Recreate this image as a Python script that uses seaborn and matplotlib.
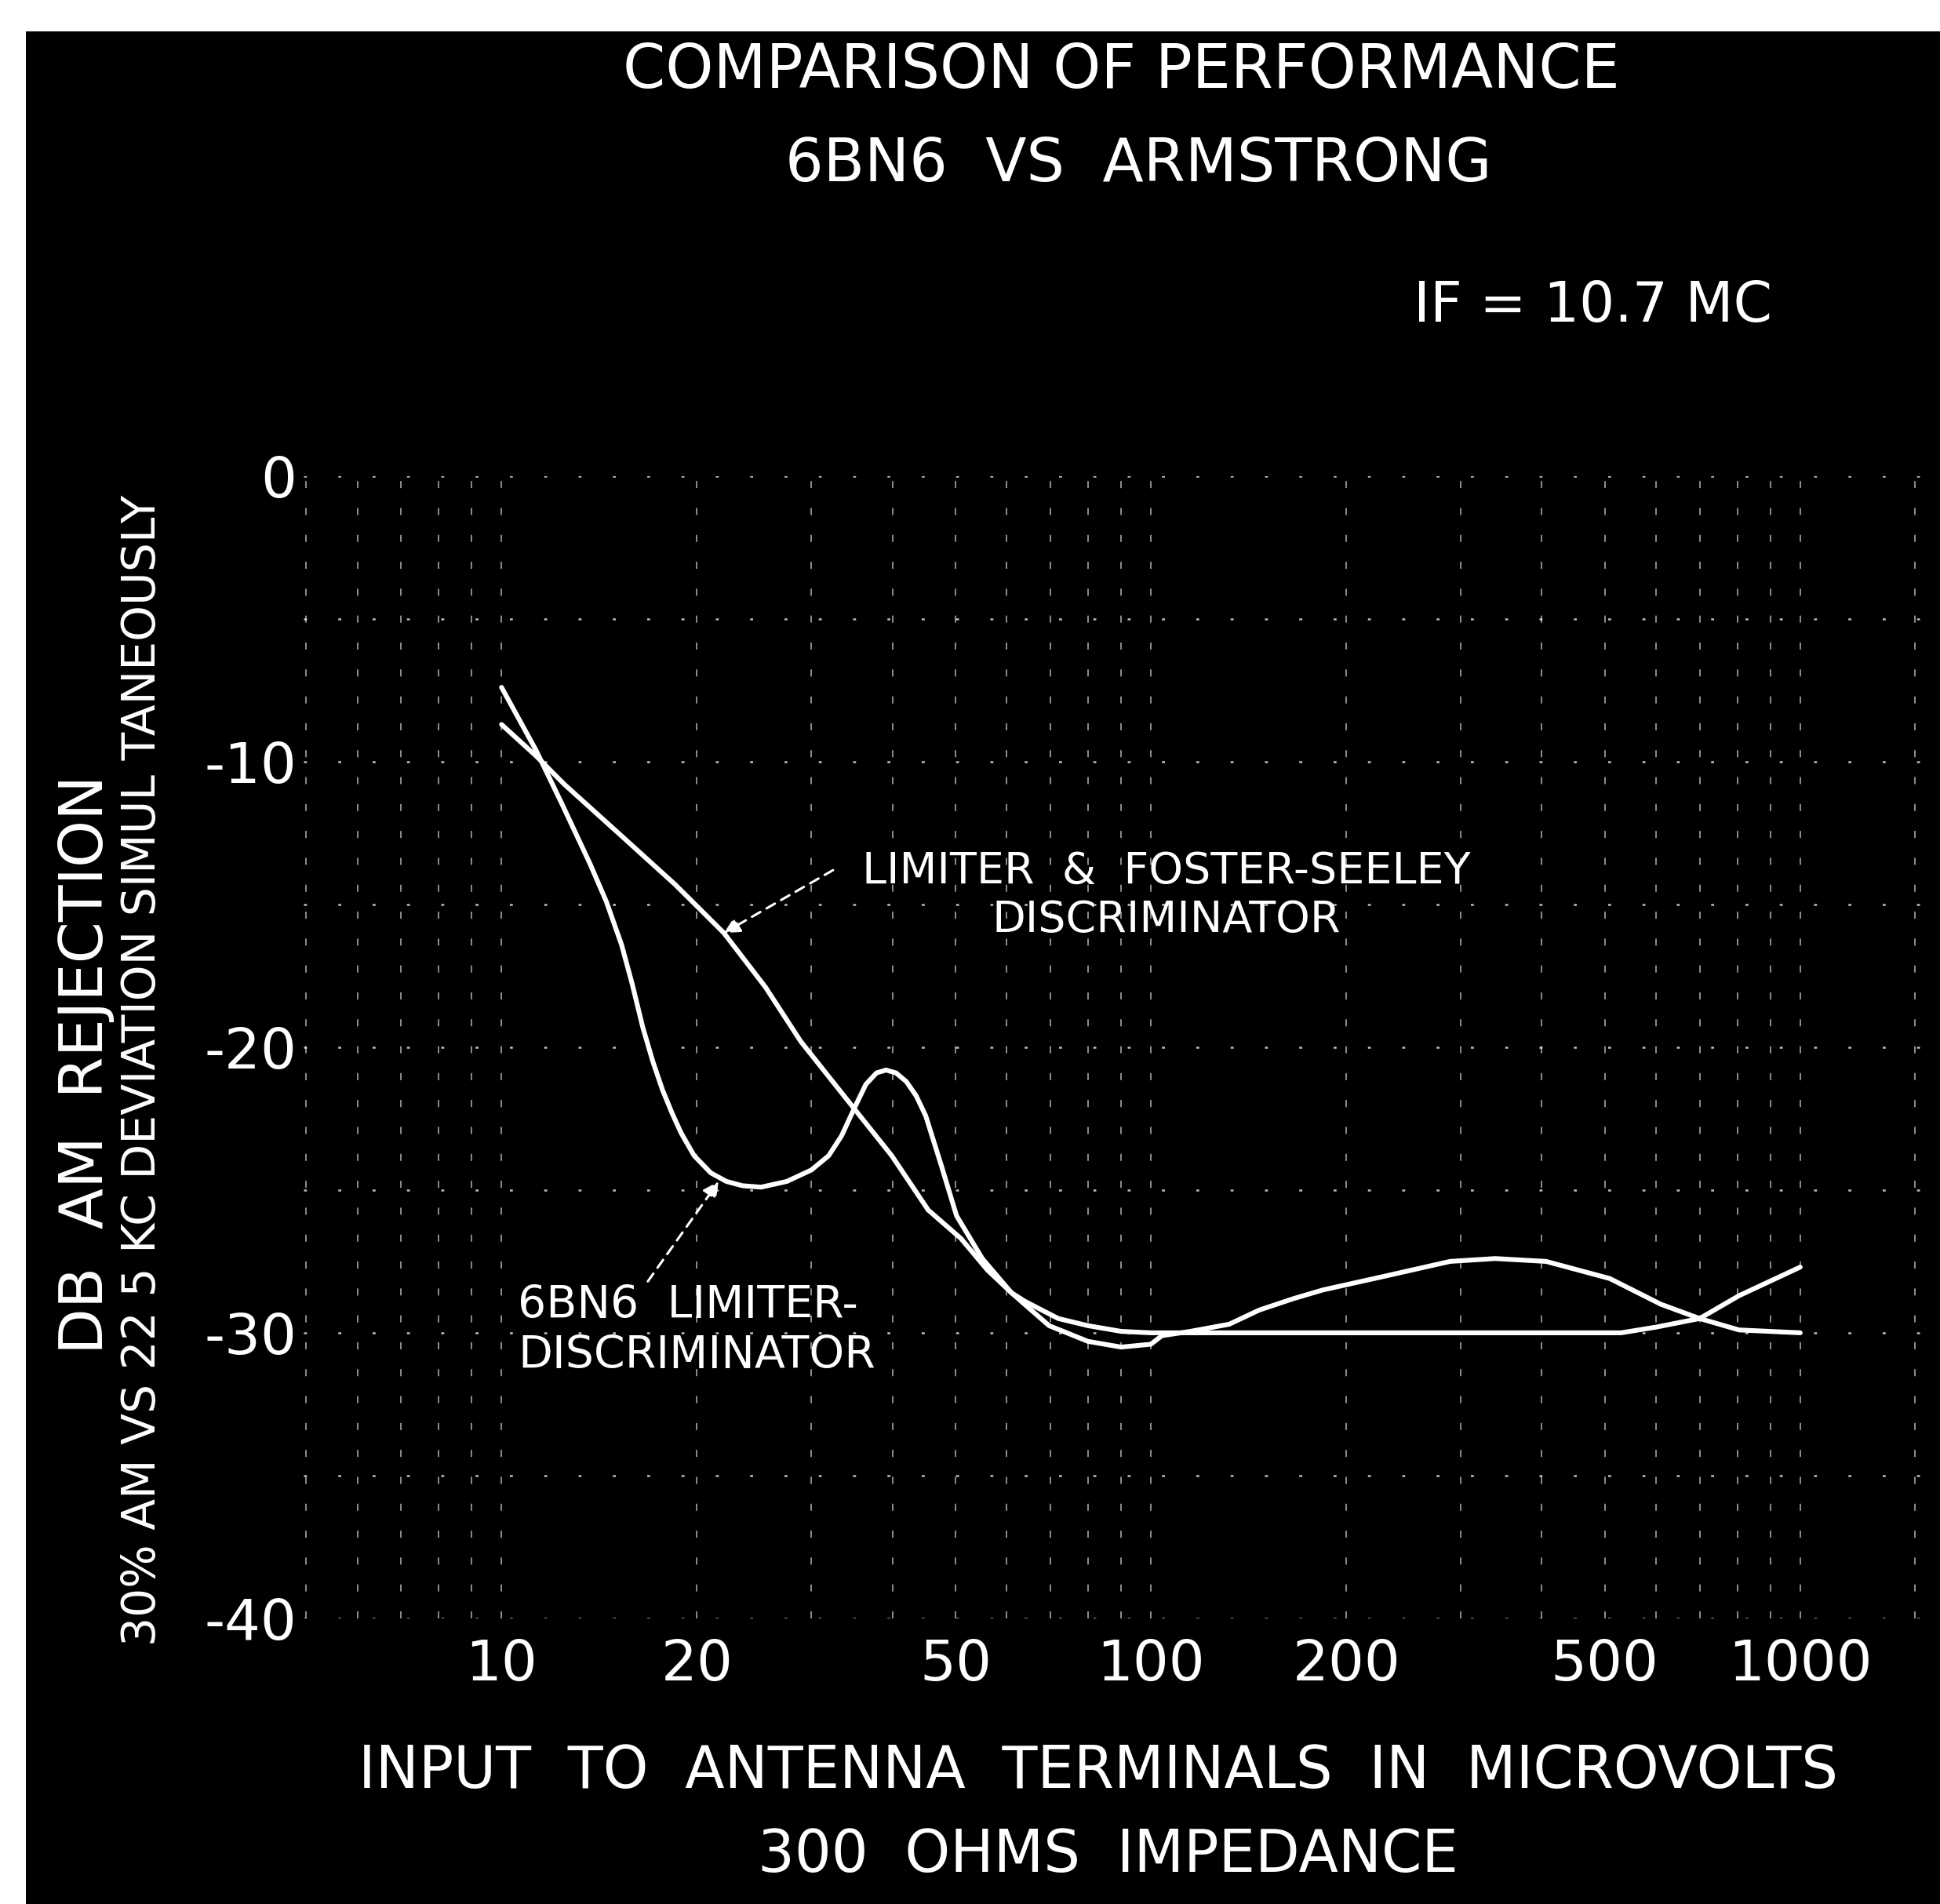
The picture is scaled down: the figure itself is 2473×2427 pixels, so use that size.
import numpy as np
import pandas as pd
import matplotlib
matplotlib.use("Agg")
import matplotlib.pyplot as plt
import seaborn as sns
from matplotlib.patches import Rectangle

# ---- data ----
fs_x = [10, 11.3, 12.5, 15.3, 18.5, 22, 25.5, 28.9, 34.5, 39.9, 45.4, 51, 56, 61, 64, 72, 80, 90,
        100, 150, 200, 300, 400, 530, 600, 700, 805, 1000]
fs_y = [-8.7, -9.8, -10.8, -12.6, -14.3, -16.0, -17.9, -19.8, -22.0, -23.8, -25.7, -26.7, -27.8, -28.6,
        -28.9, -29.5, -29.75, -29.95, -30.0, -30.0, -30.0, -30.0, -30.0, -30.0, -29.8, -29.5, -28.7, -27.7]

bn_x = [10, 11.3, 12.4, 13.7, 14.5, 15.3, 15.9, 16.5, 17.1, 17.7, 18.3, 18.9, 19.8, 21.0, 22.2, 23.5,
        25.1, 27.5, 30, 31.9, 33.4, 35.0, 36.4, 37.8, 39.1, 40.5, 42, 43.5, 45, 47.5, 50.2, 55, 61,
        69.7, 80, 90, 100, 104, 115, 132, 147, 166, 184, 231, 289, 339, 406, 509, 610, 700, 805, 1000]
bn_y = [-7.4, -9.6, -11.5, -13.6, -14.9, -16.4, -17.8, -19.3, -20.5, -21.5, -22.3, -23.0, -23.8, -24.4,
        -24.7, -24.85, -24.9, -24.7, -24.3, -23.8, -23.1, -22.1, -21.3, -20.9, -20.8, -20.9, -21.2,
        -21.7, -22.4, -24.1, -25.9, -27.4, -28.6, -29.75, -30.3, -30.5, -30.4, -30.1, -29.95, -29.7,
        -29.2, -28.8, -28.5, -28.0, -27.5, -27.4, -27.5, -28.1, -29.0, -29.5, -29.9, -30.0]

y_ticks = [0, -10, -20, -30, -40]
y_ticklabels = ["0", "-10", "-20", "-30", "-40"]
x_ticks = [10, 20, 50, 100, 200, 500, 1000]
x_ticklabels = ["10", "20", "50", "100", "200", "500", "1000"]

title1 = "COMPARISON OF PERFORMANCE"
title2 = "6BN6  VS  ARMSTRONG"
if_label = "IF = 10.7 MC"
xlabel1 = "INPUT  TO  ANTENNA  TERMINALS  IN  MICROVOLTS"
xlabel2 = "300  OHMS  IMPEDANCE"
ylabel1 = "DB  AM  REJECTION"
ylabel2 = "30% AM VS 22 5 KC DEVIATION SIMUL TANEOUSLY"
fs_label = "LIMITER  &  FOSTER-SEELEY\nDISCRIMINATOR"
bn_label = "6BN6  LIMITER-\nDISCRIMINATOR"

df = pd.concat([
    pd.DataFrame({"x": fs_x, "y": fs_y, "curve": "fs"}),
    pd.DataFrame({"x": bn_x, "y": bn_y, "curve": "bn"}),
])

sns.set_style("white")
plt.rcParams['font.family'] = ['DejaVu Sans']

fig = plt.figure(figsize=(24.73, 24.27), dpi=100)
fig.patch.set_facecolor("white")
fig.add_artist(Rectangle((0.0133, 0.0), 1.0, 1 - 0.0165, transform=fig.transFigure,
                         facecolor="black", edgecolor="none", zorder=-10))

ax = fig.add_axes([0.1563, 0.150, 0.8386, 0.600])
ax.set_facecolor("none")

sns.lineplot(data=df, x="x", y="y", units="curve", estimator=None, sort=False,
             color="white", linewidth=4.4, ax=ax, legend=False)

ax.set_xscale("log")
ax.set_xlim(4.95, 1585)
ax.set_ylim(-40, 0)

for s in ax.spines.values():
    s.set_visible(False)

# grid
hgrid = np.arange(0, -45, -5)
for v in hgrid:
    ax.axhline(v, color="white", lw=1.8, linestyle=(0, (1.5, 16)), alpha=0.75, zorder=0)
vgrid = [5, 6, 7, 8, 9, 10, 20, 30, 40, 50, 60, 70, 80, 90, 100, 200, 300, 400, 500,
         600, 700, 800, 900, 1000, 1500]
for v in vgrid:
    ax.axvline(v, color="white", lw=1.3, linestyle=(0, (5, 14)), alpha=0.6, zorder=0)

ax.set_yticks(y_ticks)
ax.set_yticklabels(y_ticklabels)
ax.set_xticks(x_ticks)
ax.set_xticklabels(x_ticklabels)
ax.minorticks_off()
ax.tick_params(axis="both", length=0, colors="white", labelsize=52)
ax.tick_params(axis="y", pad=6)
ax.tick_params(axis="x", pad=18)
ax.set_xlabel("")
ax.set_ylabel("")

# titles & labels
fig.text(0.578, 0.963, title1, color="white", fontsize=56, ha="center", va="center")
fig.text(0.587, 0.9136, title2, color="white", fontsize=55, ha="center", va="center")
fig.text(0.821, 0.839, if_label, color="white", fontsize=51, ha="center", va="center")
fig.text(0.566, 0.0695, xlabel1, color="white", fontsize=53, ha="center", va="center")
fig.text(0.571, 0.0253, xlabel2, color="white", fontsize=53, ha="center", va="center")
fig.text(0.0446, 0.441, ylabel1, color="white", fontsize=55, ha="center", va="center",
         rotation=90)
fig.text(0.0733, 0.438, ylabel2, color="white", fontsize=42, ha="center", va="center",
         rotation=90)

# annotations
ax.text(105.5, -14.7, fs_label, color="white", fontsize=40, ha="center", va="center",
        multialignment="center")
ax.text(10.6, -29.94, bn_label, color="white", fontsize=41, ha="left", va="center",
        multialignment="left")
ax.annotate("", xy=(22.0, -16.0), xytext=(32.4, -13.8),
            arrowprops=dict(arrowstyle="-|>", color="white", lw=2.2, linestyle=(0, (4, 3)),
                            mutation_scale=30, shrinkA=0, shrinkB=0))
ax.annotate("", xy=(21.6, -24.7), xytext=(16.8, -28.2),
            arrowprops=dict(arrowstyle="-|>", color="white", lw=2.2, linestyle=(0, (4, 3)),
                            mutation_scale=30, shrinkA=0, shrinkB=0))

fig.savefig("out.png", dpi=100, facecolor=fig.get_facecolor())
